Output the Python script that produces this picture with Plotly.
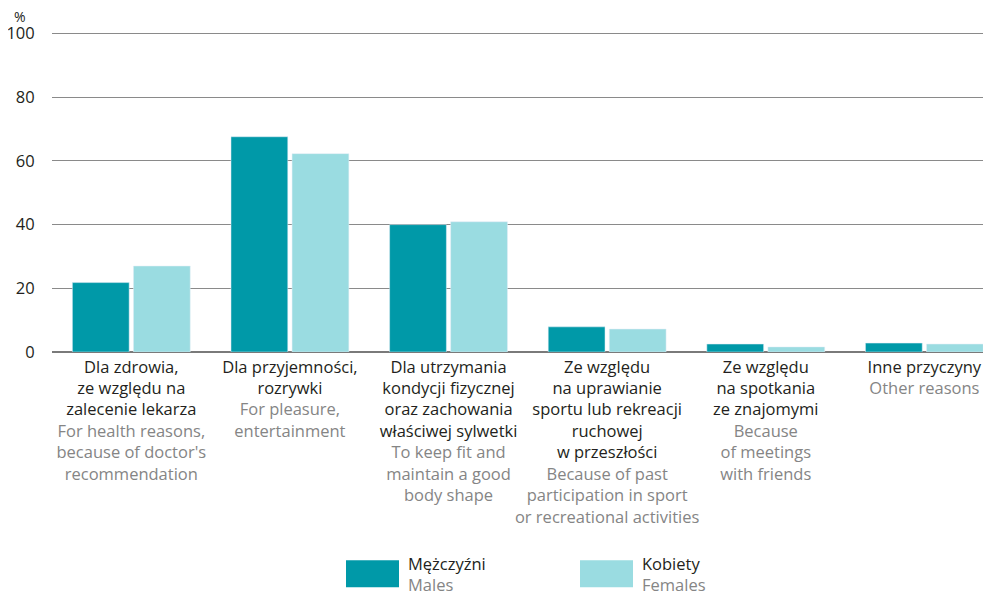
import plotly.graph_objects as go

categories_pl = [
    ["Dla zdrowia,", "ze względu na", "zalecenie lekarza"],
    ["Dla przyjemności,", "rozrywki"],
    ["Dla utrzymania", "kondycji fizycznej", "oraz zachowania", "właściwej sylwetki"],
    ["Ze względu", "na uprawianie", "sportu lub rekreacji", "ruchowej", "w przeszłości"],
    ["Ze względu", "na spotkania", "ze znajomymi"],
    ["Inne przyczyny"],
]
categories_en = [
    ["For health reasons,", "because of doctor's", "recommendation"],
    ["For pleasure,", "entertainment"],
    ["To keep fit and", "maintain a good", "body shape"],
    ["Because of past", "participation in sport", "or recreational activities"],
    ["Because", "of meetings", "with friends"],
    ["Other reasons"],
]
males = [21.8, 67.6, 40.0, 7.9, 2.5, 2.8]
females = [27.0, 62.3, 40.9, 7.2, 1.6, 2.5]
y_ticks = [0, 20, 40, 60, 80, 100]

C_M = "#0099A8"
C_F = "#9ADCE1"
TXT = "#231F20"
GREY = "#858585"
FONT = "Open Sans"
FS = 16.5

# page body has an 8px offset; lay out the figure accordingly
OFF = 8
W, H = 991 - OFF, 591 - OFF
L = 52 - OFF
ZERO = 352 - OFF
PX_PER = 318 / 100
YMAX = 100.5
T = ZERO - PX_PER * YMAX
B = H - ZERO
PW = W - L
PH = ZERO - T

xs = list(range(len(categories_pl)))
ticktext = []
for pl, en in zip(categories_pl, categories_en):
    lines = [f"<span style='color:{TXT}'>{l}</span>" for l in pl]
    lines += [f"<span style='color:{GREY}'>{l}</span>" for l in en]
    ticktext.append("<br>".join(lines))

fig = go.Figure()
fig.add_trace(go.Bar(x=xs, y=males, name="Mężczyźni", marker_color=C_M, showlegend=False))
fig.add_trace(go.Bar(x=xs, y=females, name="Kobiety", marker_color=C_F, showlegend=False))

fig.update_layout(
    width=W, height=H,
    margin=dict(l=L, r=0, t=T, b=B),
    paper_bgcolor="white", plot_bgcolor="white",
    barmode="group", bargap=0.23, bargroupgap=0.07,
    font=dict(family=FONT, size=FS, color=TXT),
    xaxis=dict(
        range=[-0.5, 5.42], tickmode="array", tickvals=xs, ticktext=ticktext,
        showgrid=False, zeroline=False, showline=False, ticks="", automargin=False,
        tickangle=0, ticklabelstandoff=3,
        tickfont=dict(family=FONT, size=FS, color=TXT),
    ),
    yaxis=dict(
        range=[0, YMAX], tickvals=y_ticks, showgrid=True, gridcolor="#8a8a8a", gridwidth=1,
        zeroline=True, zerolinecolor="#7a7a7a", zerolinewidth=2, automargin=False,
        ticks="outside", ticklen=13, tickcolor="rgba(0,0,0,0)",
        tickfont=dict(family=FONT, size=FS, color=TXT),
    ),
)

def px_x(px):
    return (px - OFF - L) / PW

def px_y(py):
    return (ZERO - (py - OFF)) / PH

fig.add_annotation(text="%", xref="paper", yref="paper", x=px_x(20), y=px_y(17),
                   xanchor="center", yanchor="middle",
                   showarrow=False, font=dict(family=FONT, size=14, color=TXT))

# custom legend
legend = [("Mężczyźni", "Males", C_M, 346), ("Kobiety", "Females", C_F, 580)]
for pl, en, col, px in legend:
    fig.add_shape(type="rect", xref="paper", yref="paper", x0=px_x(px), x1=px_x(px + 53),
                  y0=px_y(587), y1=px_y(560), fillcolor=col, line=dict(width=0))
    fig.add_annotation(text=f"{pl}<br><span style='color:{GREY}'>{en}</span>",
                       xref="paper", yref="paper", x=px_x(px + 60),
                       y=px_y(574), xanchor="left", yanchor="middle",
                       align="left", showarrow=False,
                       font=dict(family=FONT, size=FS, color=TXT))

fig.write_html("out.html")
